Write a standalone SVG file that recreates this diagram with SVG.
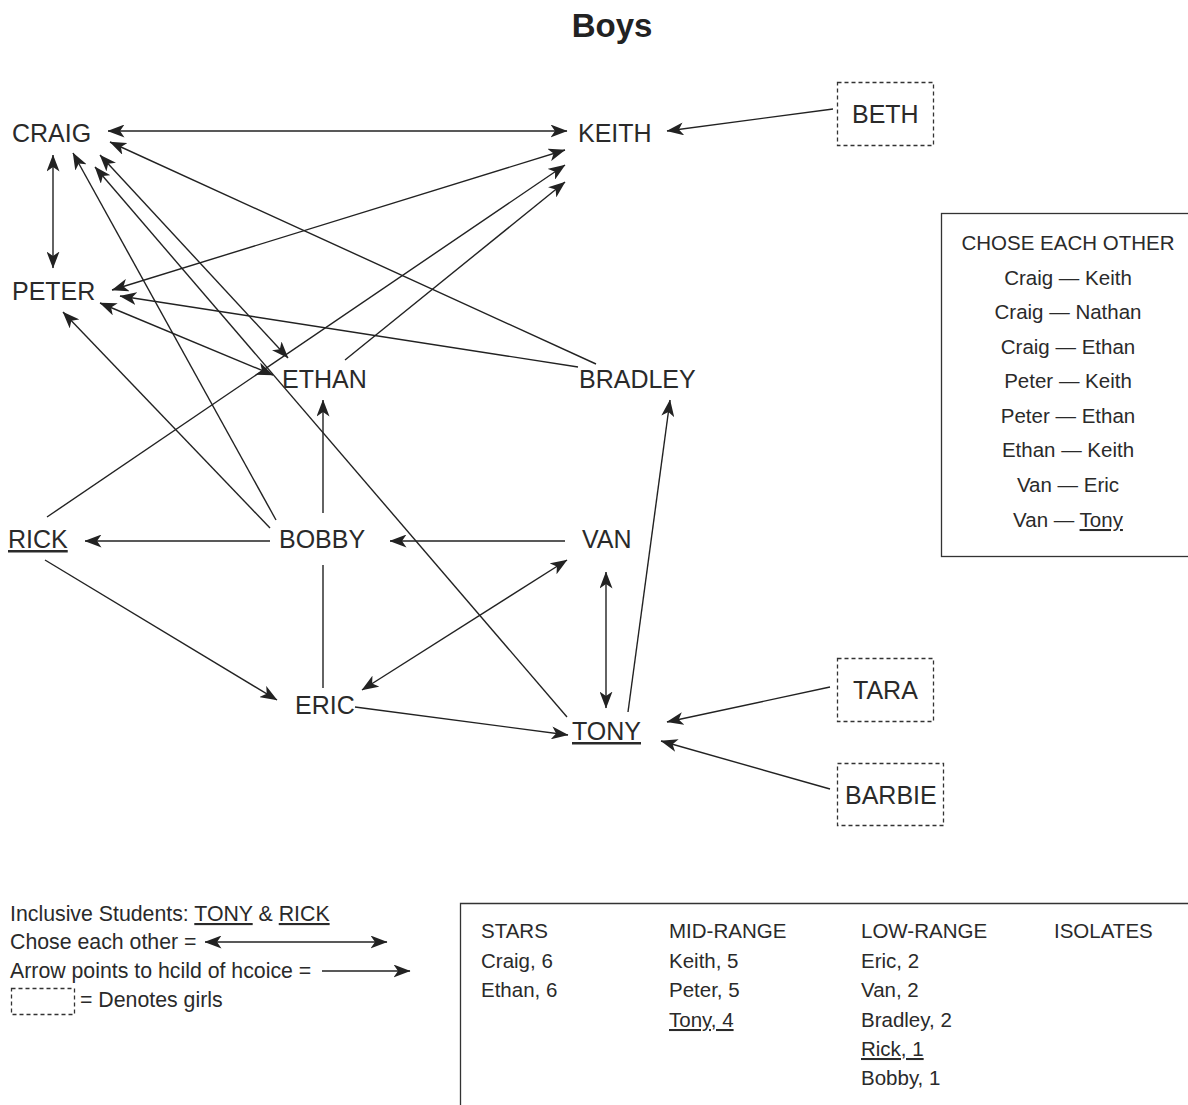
<svg xmlns="http://www.w3.org/2000/svg" width="1188" height="1105" viewBox="0 0 1188 1105">
<style>
.bg{fill:#ffffff}
.title{font-family:"Liberation Sans",Arial,sans-serif;font-size:33px;font-weight:bold;fill:#222}
.node{font-family:"Liberation Sans",Arial,sans-serif;font-size:25px;fill:#2a2a2a}
.txt{font-family:"Liberation Sans",Arial,sans-serif;font-size:20.5px;fill:#2a2a2a}
.leg{font-family:"Liberation Sans",Arial,sans-serif;font-size:21.3px;fill:#2a2a2a}
.u{text-decoration:underline}
.edge{stroke:#222;stroke-width:1.4;fill:none}
.dash{fill:none;stroke:#333;stroke-width:1.3;stroke-dasharray:4 3}
.box{fill:none;stroke:#333;stroke-width:1.3}
</style>
<defs>
<marker id="ah" viewBox="0 0 17 13" refX="16.5" refY="6.5" markerWidth="17" markerHeight="13" markerUnits="userSpaceOnUse" orient="auto-start-reverse">
<path d="M0,0 L17,6.5 L0,13 L4.5,6.5 Z" fill="#222"/>
</marker>
</defs>
<rect class="bg" x="0" y="0" width="1188" height="1105"/>
<text class="title" x="612" y="37" text-anchor="middle">Boys</text>

<g id="connectors">
<path class="edge" d="M108,131 L567,131" marker-start="url(#ah)" marker-end="url(#ah)"/>
<path class="edge" d="M53,155 L53,268" marker-start="url(#ah)" marker-end="url(#ah)"/>
<path class="edge" d="M833,109 L667,131" marker-end="url(#ah)"/>
<path class="edge" d="M112,290 L565,150" marker-start="url(#ah)" marker-end="url(#ah)"/>
<path class="edge" d="M47,517 L565,165" marker-end="url(#ah)"/>
<path class="edge" d="M345,360 L565,182" marker-end="url(#ah)"/>
<path class="edge" d="M596,364 L110,142" marker-end="url(#ah)"/>
<path class="edge" d="M578,367 L120,296" marker-end="url(#ah)"/>
<path class="edge" d="M276,520 L73,153" marker-end="url(#ah)"/>
<path class="edge" d="M100,155 L288,358" marker-start="url(#ah)" marker-end="url(#ah)"/>
<path class="edge" d="M567,717 L95,167" marker-end="url(#ah)"/>
<path class="edge" d="M100,303 L273,375" marker-start="url(#ah)" marker-end="url(#ah)"/>
<path class="edge" d="M270,528 L63,312" marker-end="url(#ah)"/>
<path class="edge" d="M323,513 L323,400" marker-end="url(#ah)"/>
<path class="edge" d="M323,565 L323,688"/>
<path class="edge" d="M270,541 L85,541" marker-end="url(#ah)"/>
<path class="edge" d="M565,541 L390,541" marker-end="url(#ah)"/>
<path class="edge" d="M45,560 L277,700" marker-end="url(#ah)"/>
<path class="edge" d="M362,690 L567,560" marker-start="url(#ah)" marker-end="url(#ah)"/>
<path class="edge" d="M606,572 L606,708" marker-start="url(#ah)" marker-end="url(#ah)"/>
<path class="edge" d="M628,712 L670,400" marker-end="url(#ah)"/>
<path class="edge" d="M355,707 L568,735" marker-end="url(#ah)"/>
<path class="edge" d="M830,687 L667,722" marker-end="url(#ah)"/>
<path class="edge" d="M830,789 L661,741" marker-end="url(#ah)"/>
</g>

<g id="craig"><text class="node" x="12" y="142">CRAIG</text></g>
<g id="keith"><text class="node" x="578" y="142">KEITH</text></g>
<g id="beth"><rect class="dash" x="837.5" y="82.5" width="96" height="63"/><text class="node" x="852" y="123">BETH</text></g>
<g id="peter"><text class="node" x="12" y="300">PETER</text></g>
<g id="ethan"><text class="node" x="282" y="388">ETHAN</text></g>
<g id="bradley"><text class="node" x="579" y="388">BRADLEY</text></g>
<g id="rick"><text class="node u" x="8" y="548">RICK</text></g>
<g id="bobby"><text class="node" x="279" y="548">BOBBY</text></g>
<g id="van"><text class="node" x="582" y="548">VAN</text></g>
<g id="eric"><text class="node" x="295" y="714">ERIC</text></g>
<g id="tony"><text class="node u" x="572" y="740">TONY</text></g>
<g id="tara"><rect class="dash" x="837.5" y="658.5" width="96" height="63"/><text class="node" x="853" y="699">TARA</text></g>
<g id="barbie"><rect class="dash" x="837.5" y="763.5" width="106" height="62"/><text class="node" x="845" y="804">BARBIE</text></g>

<g id="chose-each-other">
<rect class="box" x="941.5" y="213.5" width="260" height="343"/>
<text class="txt" x="1068" y="250" text-anchor="middle">CHOSE EACH OTHER</text>
<text class="txt" x="1068" y="285" text-anchor="middle">Craig — Keith</text>
<text class="txt" x="1068" y="319" text-anchor="middle">Craig — Nathan</text>
<text class="txt" x="1068" y="354" text-anchor="middle">Craig — Ethan</text>
<text class="txt" x="1068" y="388" text-anchor="middle">Peter — Keith</text>
<text class="txt" x="1068" y="423" text-anchor="middle">Peter — Ethan</text>
<text class="txt" x="1068" y="457" text-anchor="middle">Ethan — Keith</text>
<text class="txt" x="1068" y="492" text-anchor="middle">Van — Eric</text>
<text class="txt" x="1068" y="527" text-anchor="middle">Van — <tspan class="u">Tony</tspan></text>
</g>

<g id="legend">
<text class="leg" x="10" y="921">Inclusive Students: <tspan class="u">TONY</tspan> &amp; <tspan class="u">RICK</tspan></text>
<text class="leg" x="10" y="949">Chose each other =</text>
<path class="edge" d="M205,942 L387,942" marker-start="url(#ah)" marker-end="url(#ah)"/>
<text class="leg" x="10" y="978">Arrow points to hcild of hcoice =</text>
<path class="edge" d="M322,971 L410,971" marker-end="url(#ah)"/>
<rect class="dash" x="11.5" y="988.5" width="63" height="26"/>
<text class="leg" x="80" y="1007">= Denotes girls</text>
</g>

<g id="rankings">
<path class="box" d="M460.5,1105 L460.5,903.5 L1188,903.5"/>
<text class="txt" x="481" y="938">STARS</text>
<text class="txt" x="481" y="968">Craig, 6</text>
<text class="txt" x="481" y="997">Ethan, 6</text>
<text class="txt" x="669" y="938">MID-RANGE</text>
<text class="txt" x="669" y="968">Keith, 5</text>
<text class="txt" x="669" y="997">Peter, 5</text>
<text class="txt u" x="669" y="1027">Tony, 4</text>
<text class="txt" x="861" y="938">LOW-RANGE</text>
<text class="txt" x="861" y="968">Eric, 2</text>
<text class="txt" x="861" y="997">Van, 2</text>
<text class="txt" x="861" y="1027">Bradley, 2</text>
<text class="txt u" x="861" y="1056">Rick, 1</text>
<text class="txt" x="861" y="1085">Bobby, 1</text>
<text class="txt" x="1054" y="938">ISOLATES</text>
</g>
</svg>
